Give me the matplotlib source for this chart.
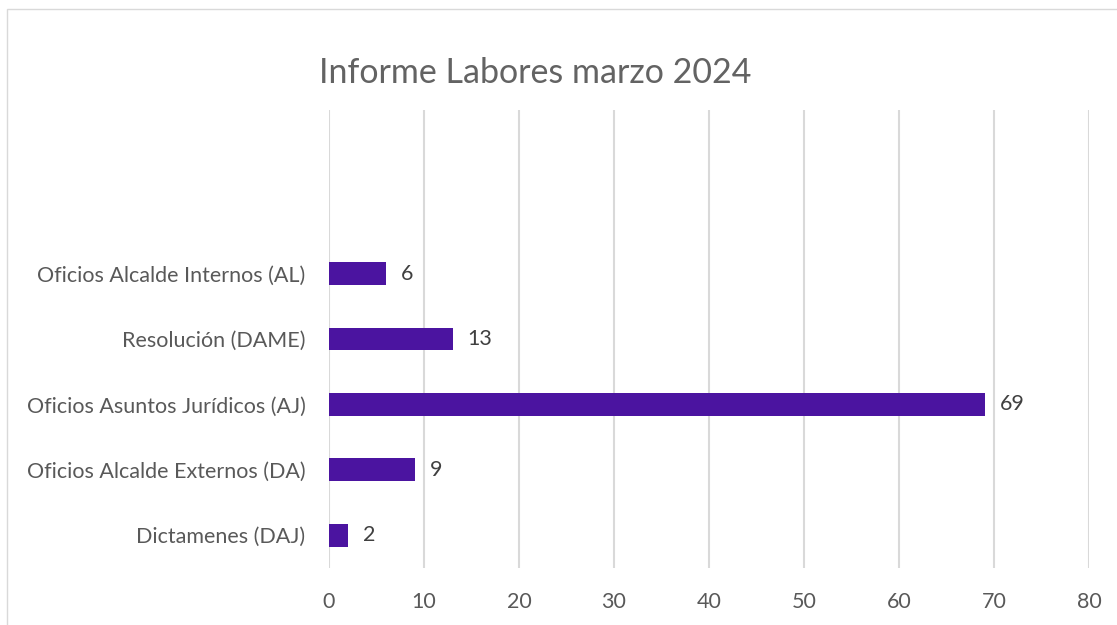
import matplotlib
matplotlib.use("Agg")
import matplotlib.pyplot as plt
from matplotlib.patches import Rectangle
import numpy as np

title = "Informe Labores marzo 2024"
categories = ["Dictamenes (DAJ)", "Oficios Alcalde Externos (DA)",
              "Oficios Asuntos Jurídicos (AJ)", "Resolución (DAME)",
              "Oficios Alcalde Internos (AL)", "", ""]
values = [2, 9, 69, 13, 6, np.nan, np.nan]
xticks = [0, 10, 20, 30, 40, 50, 60, 70, 80]

plt.rcParams['font.family'] = ['Lato', 'DejaVu Sans']
text_color = "#595959"
bar_color = "#4B14A0"
grid_color = "#D9D9D9"

W, H = 1117, 625
fig = plt.figure(figsize=(W / 100, H / 100), dpi=100)
fig.patch.set_facecolor("white")

# chart area border (cropped)
fig.add_artist(Rectangle((7 / W, -0.2), 1.5, 1.2 - 9 / H,
                         transform=fig.transFigure, fill=False,
                         edgecolor=grid_color, linewidth=1.0))

left, right = 329 / W, 1089 / W
bottom, top = 1 - 568 / H, 1 - 110 / H
ax = fig.add_axes([left, bottom, right - left, top - bottom])

y = np.arange(len(categories))
ax.barh(y, values, height=0.35, color=bar_color)
ax.set_xlim(0, 80)
ax.set_ylim(-0.5, len(categories) - 0.5)
ax.set_yticks(y)
ax.set_yticklabels(categories)
ax.set_xticks(xticks)
ax.set_xticklabels([str(t) for t in xticks])

ax.grid(axis='x', color=grid_color, linewidth=1.5)
ax.set_axisbelow(True)
for s in ax.spines.values():
    s.set_visible(False)
ax.tick_params(axis='both', length=0, labelsize=15.5, colors=text_color)
ax.tick_params(axis='y', pad=17)
ax.tick_params(axis='x', pad=17)

for yi, v in zip(y, values):
    if not np.isnan(v):
        ax.annotate(f"{int(v)}", (v, yi), xytext=(11, 0),
                    textcoords="offset points", va="center", ha="left",
                    fontsize=15.5, color="#404040")

fig.text(535 / W, 1 - 73 / H, title, ha="center", va="center",
         fontsize=24.5, color="#636363")

fig.savefig("out.png", dpi=100, facecolor="white")
